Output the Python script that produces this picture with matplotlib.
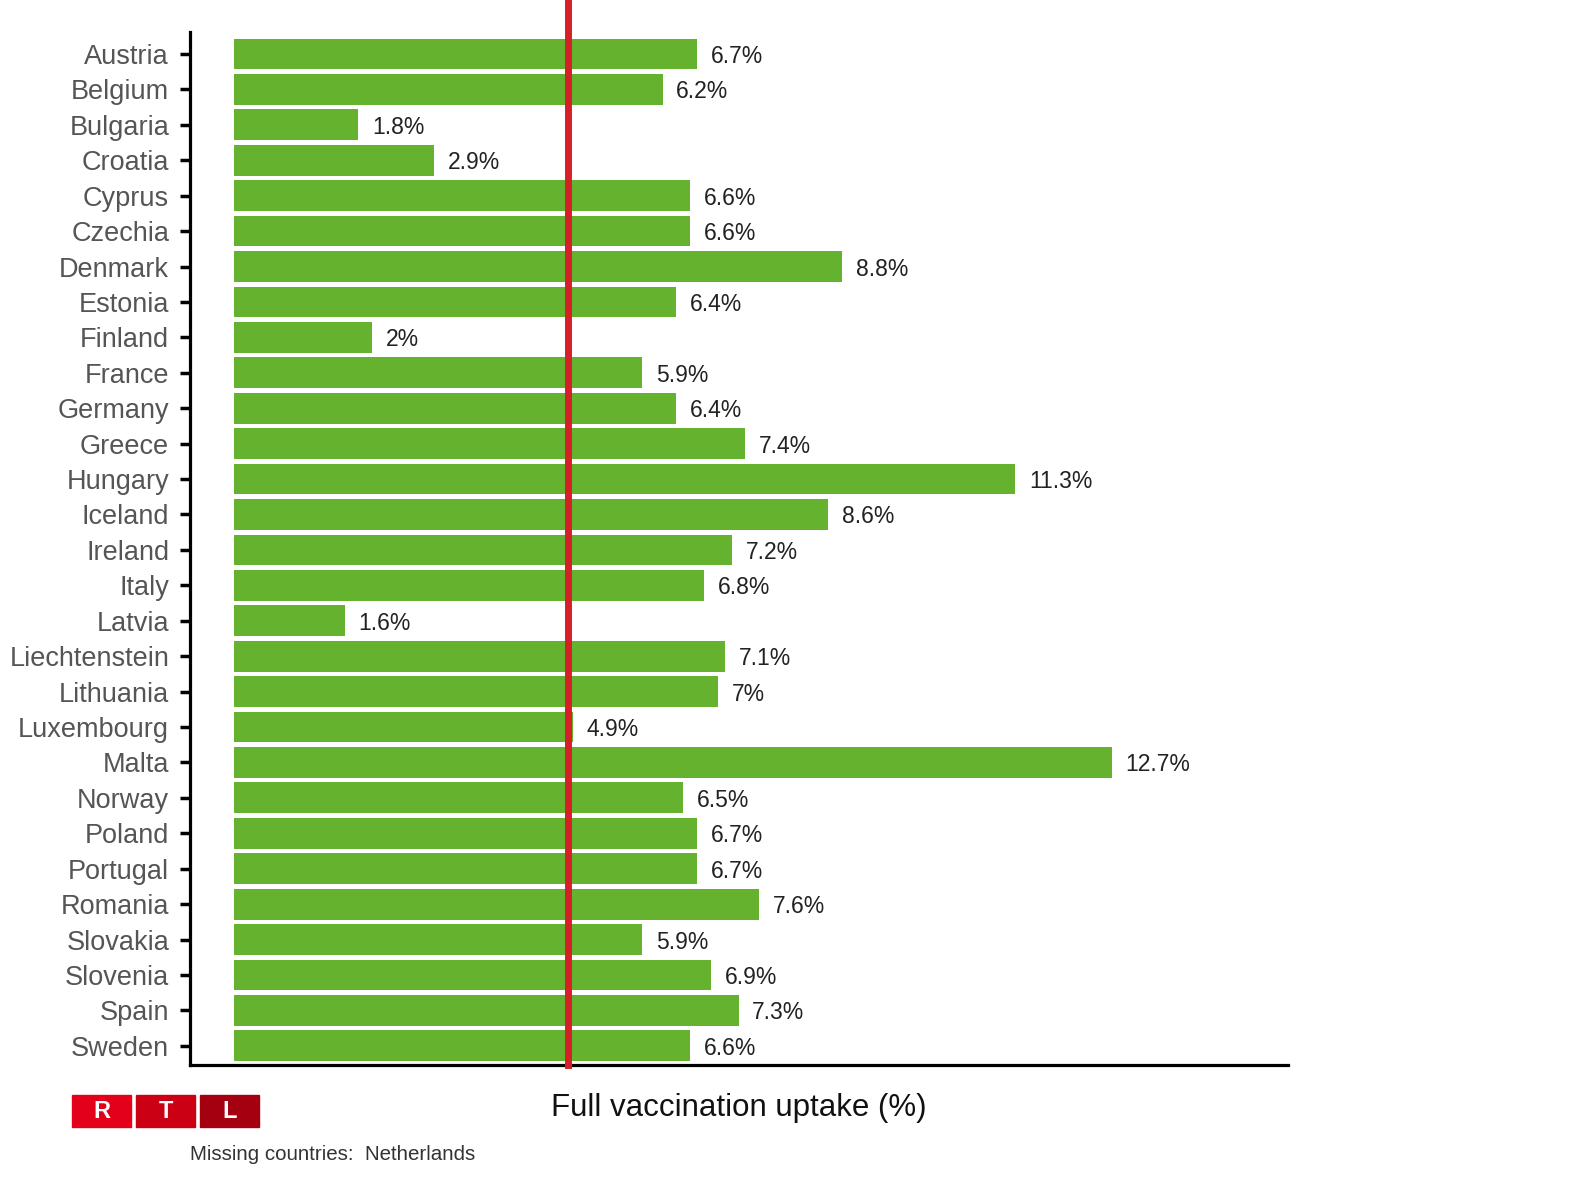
import matplotlib
matplotlib.use("Agg")
import matplotlib.pyplot as plt
from matplotlib.patches import Rectangle

countries = ["Austria", "Belgium", "Bulgaria", "Croatia", "Cyprus", "Czechia",
             "Denmark", "Estonia", "Finland", "France", "Germany", "Greece",
             "Hungary", "Iceland", "Ireland", "Italy", "Latvia", "Liechtenstein",
             "Lithuania", "Luxembourg", "Malta", "Norway", "Poland", "Portugal",
             "Romania", "Slovakia", "Slovenia", "Spain", "Sweden"]
uptake = [6.7, 6.2, 1.8, 2.9, 6.6, 6.6, 8.8, 6.4, 2.0, 5.9, 6.4, 7.4,
          11.3, 8.6, 7.2, 6.8, 1.6, 7.1, 7.0, 4.9, 12.7, 6.5, 6.7, 6.7,
          7.6, 5.9, 6.9, 7.3, 6.6]
labels = ["6.7%", "6.2%", "1.8%", "2.9%", "6.6%", "6.6%", "8.8%", "6.4%", "2%",
          "5.9%", "6.4%", "7.4%", "11.3%", "8.6%", "7.2%", "6.8%", "1.6%", "7.1%",
          "7%", "4.9%", "12.7%", "6.5%", "6.7%", "6.7%", "7.6%", "5.9%", "6.9%",
          "7.3%", "6.6%"]
average = 4.83  # red reference line
missing = "Missing countries:  Netherlands"

plt.rcParams['font.family'] = ['Liberation Sans', 'DejaVu Sans']

fig = plt.figure(figsize=(15.72, 12.03), dpi=100)
ax = fig.add_axes([190/1572, 1 - 1065/1203, (1288-190)/1572, (1065-32)/1203])

pos = list(range(len(countries)))
ax.barh(pos, uptake, height=0.87, color="#65b22f", zorder=2)
for p, v, t in zip(pos, uptake, labels):
    ax.text(v + 0.2, p, t, va="center_baseline", ha="left", fontsize=16.5, color="#222222")

ax.axvline(average, ymin=0, ymax=1 + 32/1033, color="#d52027", lw=5, zorder=3, clip_on=False)

ax.set_xlim(-0.637, 15.25)
ax.set_ylim(len(countries) - 1 + 0.54, -0.62)
ax.set_yticks(pos)
ax.set_yticklabels(countries, fontsize=19.5, color="#555555")
ax.set_xticks([])
ax.tick_params(axis="y", length=7, width=2.5, pad=8)
for s in ["top", "right"]:
    ax.spines[s].set_visible(False)
for s in ["left", "bottom"]:
    ax.spines[s].set_linewidth(2.3)
ax.set_xlabel("Full vaccination uptake (%)", fontsize=22.5, color="#111111", labelpad=20)

# RTL logo
boxes = [(72, "R", "#e2001a"), (136, "T", "#cc0015"), (200, "L", "#a5000f")]
for x0, letter, col in boxes:
    fig.patches.append(Rectangle((x0/1572, 1 - 1127/1203), 59/1572, 32/1203,
                                 transform=fig.transFigure, color=col))
    fig.text((x0 + 29.5)/1572, 1 - 1111/1203, letter, color="white", fontsize=17,
             fontweight="bold", ha="center", va="center")

fig.text(190/1572, 1 - 1155/1203, missing, fontsize=14.8, color="#333333", va="center")

plt.savefig("out.png", dpi=100)
